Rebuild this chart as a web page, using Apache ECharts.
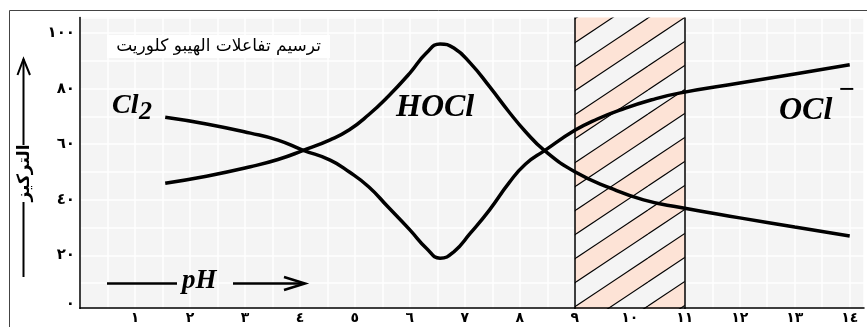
<!DOCTYPE html>
<html>
<head>
<meta charset="utf-8">
<script src="https://cdn.jsdelivr.net/npm/echarts@6/dist/echarts.min.js"></script>
<style>
  html, body { margin: 0; padding: 0; background: #fff; }
  #chart { width: 867px; height: 327px; }
</style>
</head>
<body>
<div id="chart"></div>
<script>
// Curve that starts as Cl2, dips under HOCl and rises to OCl-
const clPH     = [1.55, 2.3, 3.1, 3.6, 4.05, 4.55, 4.9, 5.25, 5.6, 6.0, 6.3, 6.55, 6.8, 7.1, 7.45, 7.8, 8.1, 8.45, 9.0, 9.4, 9.85, 10.4, 10.9, 12.0, 13.0, 14.0];
const clValues = [69.7, 67.3, 64.0, 61.5, 57.9, 54.3, 50.0, 44.7, 37.5, 29.2, 22.6, 19.0, 21.3, 28.0, 36.4, 46.0, 52.8, 57.7, 65.0, 69.0, 72.5, 76.0, 78.4, 82.0, 85.3, 88.6];

// Curve that rises to the HOCl maximum and falls off in alkaline range
const hoclPH     = [1.55, 2.3, 3.1, 3.6, 4.05, 4.55, 4.9, 5.25, 5.6, 6.0, 6.3, 6.55, 6.8, 7.1, 7.45, 7.8, 8.1, 8.45, 9.0, 9.65, 10.25, 10.9, 12.0, 13.0, 14.0];
const hoclValues = [46.0, 48.5, 51.9, 54.5, 57.7, 61.6, 65.2, 70.6, 77.1, 85.6, 92.8, 96.1, 94.6, 89.2, 80.7, 71.7, 64.6, 57.7, 50.1, 44.2, 40.0, 37.3, 33.5, 30.2, 27.0];

// Shaded pH band
const bandPH = [9, 11];

// Tick labels (Arabic-Indic digits)
const xTickValues = [1, 2, 3, 4, 5, 6, 7, 8, 9, 10, 11, 12, 13, 14];
const xTickLabels = ['١', '٢', '٣', '٤', '٥', '٦', '٧', '٨', '٩', '١٠', '١١', '١٢', '١٣', '١٤'];
const yTickValues = [0, 20, 40, 60, 80, 100];
const yTickLabels = ['٠', '٢٠', '٤٠', '٦٠', '٨٠', '١٠٠'];

// Texts
const titleText = 'ترسيم تفاعلات الهيبو كلوريت';
const yName = 'التركيز';

const AR_FONT = '"DejaVu Sans", sans-serif';
const SERIF = '"Liberation Serif", "DejaVu Serif", serif';

function pairs(xs, ys) { return xs.map((x, i) => [x, ys[i]]); }

// Diagonal stripe tile for the shaded band
function stripeTile() {
  const W = 72, H = 48, step = 24, phase = 18;
  const cv = document.createElement('canvas');
  cv.width = W; cv.height = H;
  const g = cv.getContext('2d');
  g.fillStyle = '#f4f4f4';
  g.fillRect(0, 0, W, H);
  g.fillStyle = '#fde3d6';
  for (let m = -3; m <= 3; m++) {
    const c1 = phase + 2 * step * m, c2 = c1 + step;
    g.beginPath();
    g.moveTo(0, c1); g.lineTo(W, c1 - H); g.lineTo(W, c2 - H); g.lineTo(0, c2);
    g.closePath(); g.fill();
  }
  g.strokeStyle = '#000'; g.lineWidth = 1.1;
  for (let k = -5; k <= 6; k++) {
    const c0 = phase + step * k;
    g.beginPath(); g.moveTo(0, c0); g.lineTo(W, c0 - H); g.stroke();
  }
  return cv;
}

const chart = echarts.init(document.getElementById('chart'), null, { renderer: 'canvas' });

const xMax = 14.26;
const yMax = 105.6;

const option = {
  animation: false,
  grid: { left: 80, right: 0, top: 17.5, bottom: 16, show: true, backgroundColor: '#f4f4f4', borderWidth: 0 },
  xAxis: [
    {
      type: 'value', position: 'bottom', min: 0, max: xMax, interval: 0.5,
      axisLine: { show: false }, axisTick: { show: false }, axisLabel: { show: false },
      splitLine: { show: true, lineStyle: { color: '#ffffff', width: 1.5 } }
    },
    {
      type: 'value', position: 'bottom', min: 0, max: xMax, interval: 0.5, offset: -3, z: 10,
      axisLine: { show: true, lineStyle: { color: '#000', width: 1.5 } },
      axisTick: { show: false },
      splitLine: { show: false },
      axisLabel: {
        interval: 0, margin: 3, color: '#000', fontFamily: AR_FONT, fontWeight: 'bold', fontSize: 14,
        formatter: v => { const i = xTickValues.indexOf(v); return i >= 0 ? xTickLabels[i] : ''; }
      }
    }
  ],
  yAxis: {
    type: 'value', min: 0, max: yMax, interval: 10,
    axisLine: { show: true, lineStyle: { color: '#000', width: 1.5 } },
    axisTick: { show: false },
    splitLine: { show: true, lineStyle: { color: '#ffffff', width: 1.5 } },
    axisLabel: {
      margin: 5, color: '#000', fontFamily: AR_FONT, fontWeight: 'bold', fontSize: 15,
      formatter: v => {
        const i = yTickValues.indexOf(v);
        if (i < 0) return '';
        return i === 0 ? '{low|' + yTickLabels[i] + '}' : yTickLabels[i];
      },
      rich: { low: { fontFamily: AR_FONT, fontWeight: 'bold', fontSize: 15, color: '#000', padding: [0, 0, 14, 0] } }
    }
  },
  series: [
    {
      type: 'line', xAxisIndex: 0, smooth: 0.5, symbol: 'none',
      lineStyle: { color: '#000', width: 3.5 },
      data: pairs(clPH, clValues),
      markArea: {
        silent: true,
        itemStyle: { color: { image: stripeTile(), repeat: 'repeat' }, borderWidth: 0 },
        data: [[{ xAxis: bandPH[0] }, { xAxis: bandPH[1] }]]
      },
      markLine: {
        silent: true, symbol: 'none', label: { show: false },
        lineStyle: { color: '#000', width: 1.5, type: 'solid' },
        data: bandPH.map(v => ({ xAxis: v }))
      }
    },
    {
      type: 'line', xAxisIndex: 0, smooth: 0.5, symbol: 'none',
      lineStyle: { color: '#000', width: 3.5 },
      data: pairs(hoclPH, hoclValues)
    }
  ],
  graphic: [
    // outer frame
    { type: 'polyline', z: 100, shape: { points: [[9.5, 327], [9.5, 10.5], [867, 10.5]] }, style: { stroke: '#444', lineWidth: 1, fill: null } },
    // strip under the x axis line
    { type: 'rect', z: 100, shape: { x: 79, y: 309, width: 788, height: 4 }, style: { fill: '#fff' } },
    // concentration axis arrow
    { type: 'polyline', z: 100, shape: { points: [[23.5, 59], [23.5, 145]] }, style: { stroke: '#000', lineWidth: 2, fill: null } },
    { type: 'polyline', z: 100, shape: { points: [[23.5, 202], [23.5, 277]] }, style: { stroke: '#000', lineWidth: 2, fill: null } },
    { type: 'polyline', z: 100, shape: { points: [[17.5, 75], [23.5, 59], [30, 75]] }, style: { stroke: '#000', lineWidth: 2, fill: null } },
    { type: 'text', z: 100, x: 25, y: 173, rotation: Math.PI / 2,
      style: { text: yName, font: 'bold 17px ' + AR_FONT, fill: '#000', align: 'center', verticalAlign: 'middle' } },
    // pH arrow
    { type: 'polyline', z: 100, shape: { points: [[107, 283.5], [177, 283.5]] }, style: { stroke: '#000', lineWidth: 2.5, fill: null } },
    { type: 'polyline', z: 100, shape: { points: [[233, 283.5], [304, 283.5]] }, style: { stroke: '#000', lineWidth: 2.5, fill: null } },
    { type: 'polyline', z: 100, shape: { points: [[284, 277], [305, 283.5], [284, 290]] }, style: { stroke: '#000', lineWidth: 2.5, fill: null } },
    { type: 'text', z: 100, x: 182, y: 281,
      style: { text: 'pH', font: 'italic bold 27px ' + SERIF, fill: '#000', align: 'left', verticalAlign: 'middle' } },
    // title box
    { type: 'rect', z: 100, shape: { x: 107, y: 35, width: 223, height: 23 }, style: { fill: '#fff' } },
    { type: 'text', z: 101, x: 218.5, y: 46.5,
      style: { text: titleText, font: '17px ' + AR_FONT, fill: '#000', align: 'center', verticalAlign: 'middle' } },
    // species labels
    { type: 'text', z: 100, x: 112, y: 106,
      style: { text: 'Cl', font: 'italic bold 28px ' + SERIF, fill: '#000', align: 'left', verticalAlign: 'middle' } },
    { type: 'text', z: 100, x: 139, y: 112,
      style: { text: '2', font: 'italic bold 26px ' + SERIF, fill: '#000', align: 'left', verticalAlign: 'middle' } },
    { type: 'text', z: 100, x: 396, y: 108,
      style: { text: 'HOCl', font: 'italic bold 32px ' + SERIF, fill: '#000', align: 'left', verticalAlign: 'middle' } },
    { type: 'text', z: 100, x: 779, y: 111,
      style: { text: 'OCl', font: 'italic bold 32px ' + SERIF, fill: '#000', align: 'left', verticalAlign: 'middle' } },
    { type: 'text', z: 100, x: 839, y: 91,
      style: { text: '−', font: 'bold 28px ' + SERIF, fill: '#000', align: 'left', verticalAlign: 'middle' } }
  ]
};

chart.setOption(option);
</script>
</body>
</html>
